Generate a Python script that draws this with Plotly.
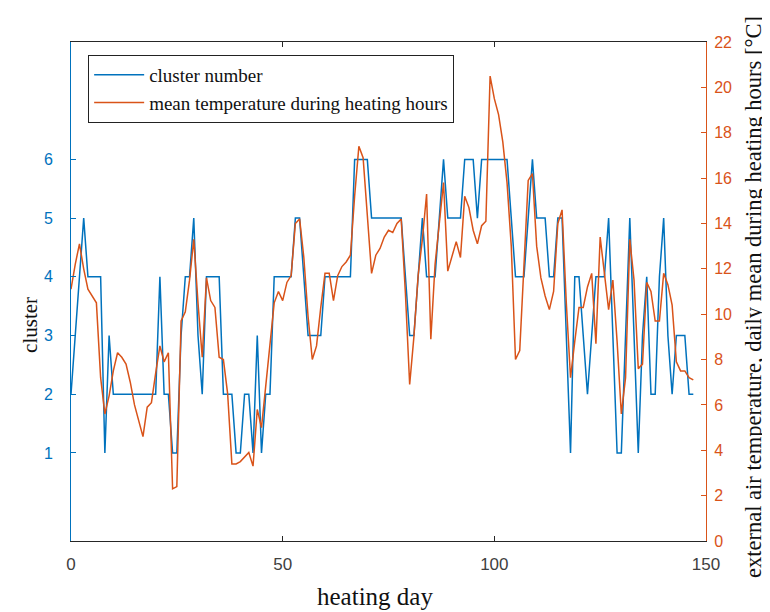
import plotly.graph_objects as go

days = list(range(0, 148))

cluster = [2, 3, 4, 5, 4, 4, 4, 4, 1, 3,
           2, 2, 2, 2, 2, 2, 2, 2, 2, 2,
           2, 4, 2, 2, 1, 1, 3, 4, 4, 5,
           3, 2, 4, 4, 4, 4, 2, 2, 2, 1,
           1, 2, 2, 1, 3, 1, 2, 2, 4, 4,
           4, 4, 4, 5, 5, 4, 3, 3, 3, 3,
           4, 4, 4, 4, 4, 4, 4, 6, 6, 6,
           6, 5, 5, 5, 5, 5, 5, 5, 5, 4,
           3, 3, 4, 5, 4, 4, 4, 5, 6, 5,
           5, 5, 5, 6, 6, 6, 5, 6, 6, 6,
           6, 6, 6, 6, 5, 4, 4, 4, 5, 6,
           5, 5, 5, 4, 4, 5, 5, 3, 1, 4,
           4, 3, 2, 3, 4, 4, 4, 5, 3, 1,
           1, 3, 5, 3, 1, 3, 4, 2, 2, 4,
           5, 3, 2, 3, 3, 3, 2, 2]

temperature = [11.1, 12.2, 13.1, 12.0, 11.1, 10.8, 10.5, 7.2, 5.6, 6.4,
               7.5, 8.3, 8.1, 7.8, 7.0, 6.0, 5.3, 4.6, 5.9, 6.1,
               7.4, 8.6, 7.9, 8.3, 2.3, 2.4, 9.7, 10.1, 11.5, 13.3,
               10.5, 8.1, 11.6, 10.6, 10.3, 8.1, 8.0, 6.5, 3.4, 3.4,
               3.5, 3.7, 3.9, 3.3, 5.8, 5.0, 6.8, 8.7, 10.5, 11.0,
               10.6, 11.4, 11.7, 14.0, 14.2, 12.5, 9.9, 8.0, 8.6, 10.3,
               11.8, 11.8, 10.6, 11.7, 12.1, 12.3, 12.6, 15.2, 17.4, 16.9,
               14.3, 11.8, 12.6, 12.9, 13.4, 13.7, 13.6, 14.0, 14.2, 10.9,
               6.9, 9.0, 11.7, 13.3, 15.3, 8.9, 12.2, 14.0, 15.8, 11.9,
               12.5, 13.2, 12.5, 15.2, 14.7, 13.7, 13.1, 13.9, 14.1, 20.5,
               19.5, 18.8, 17.6, 15.8, 13.0, 8.0, 8.4, 12.0, 15.9, 16.2,
               13.0, 11.6, 10.8, 10.2, 11.0, 14.0, 14.6, 10.5, 7.2, 8.8,
               10.3, 10.3, 11.2, 11.8, 8.7, 13.4, 11.7, 10.2, 11.5, 8.8,
               5.6, 7.2, 13.3, 11.5, 7.6, 7.8, 11.4, 11.0, 9.7, 9.7,
               11.8, 11.3, 10.4, 7.9, 7.5, 7.5, 7.2, 7.1]

x_ticks = [0, 50, 100, 150]
cluster_ticks = [1, 2, 3, 4, 5, 6]
temp_ticks = list(range(0, 23, 2))

BLUE = "#0072BD"
ORANGE = "#D95319"
SERIF = "Liberation Serif, Times New Roman, serif"
SANS = "Liberation Sans, Arial, sans-serif"

fig = go.Figure()
fig.add_trace(go.Scatter(x=days, y=cluster, mode="lines", name="cluster number",
                         line=dict(color=BLUE, width=1.5), yaxis="y"))
fig.add_trace(go.Scatter(x=days, y=temperature, mode="lines",
                         name="mean temperature during heating hours",
                         line=dict(color=ORANGE, width=1.5), yaxis="y2"))

fig.update_layout(
    width=762, height=604,
    margin=dict(l=63, r=64, t=34, b=71, autoexpand=False),
    paper_bgcolor="white", plot_bgcolor="white",
    showlegend=True,
    legend=dict(x=0.027, y=0.974, xanchor="left", yanchor="top",
                bordercolor="#222222", borderwidth=1, bgcolor="white",
                font=dict(family=SERIF, size=19, color="#111111"),
                itemwidth=50, tracegroupgap=0),
    xaxis=dict(range=[0, 150], tickvals=x_ticks, ticks="inside", ticklen=5,
               tickcolor="#262626", showline=True, linecolor="#262626", linewidth=1,
               mirror="ticks", showgrid=False, zeroline=False, automargin=False,
               ticklabelstandoff=8,
               tickfont=dict(family=SANS, size=17, color="#404040")),
    yaxis=dict(range=[-0.5, 8], tickvals=cluster_ticks, ticks="inside", ticklen=5,
               tickcolor=BLUE, showline=True, linecolor=BLUE, linewidth=1,
               showgrid=False, zeroline=False, automargin=False,
               ticklabelstandoff=14,
               tickfont=dict(family=SANS, size=16, color=BLUE)),
    yaxis2=dict(range=[0, 22], tickvals=temp_ticks, ticks="inside", ticklen=5,
                tickcolor=ORANGE, showline=True, linecolor=ORANGE, linewidth=1,
                overlaying="y", side="right", showgrid=False, zeroline=False,
                automargin=False, ticklabelstandoff=4,
                tickfont=dict(family=SANS, size=16, color=ORANGE)),
    annotations=[
        dict(text="cluster", xref="paper", yref="paper", x=-0.0646, y=0.433,
             textangle=-90, showarrow=False, xanchor="center", yanchor="middle",
             font=dict(family=SERIF, size=21, color="#111111")),
        dict(text="heating day", xref="paper", yref="paper", x=0.479, y=-0.112,
             showarrow=False, xanchor="center", yanchor="middle",
             font=dict(family=SERIF, size=25, color="#111111")),
        dict(text="external air temperature, daily mean during heating hours [°C]",
             xref="paper", yref="paper", x=1.0756, y=0.489, textangle=-90,
             showarrow=False, xanchor="center", yanchor="middle",
             font=dict(family=SERIF, size=22.5, color="#111111")),
    ],
)

fig.write_html("out.html")
